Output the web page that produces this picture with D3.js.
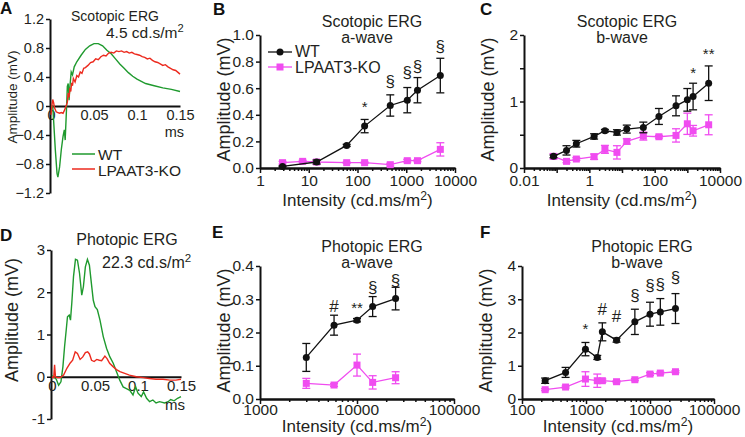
<!DOCTYPE html>
<html><head><meta charset="utf-8">
<script src="https://cdn.jsdelivr.net/npm/d3@7"></script>
<style>
body{margin:0;background:#fff}
svg text{font-family:Arial,"Liberation Sans",Helvetica,sans-serif}
</style></head><body>
<svg id="c" width="745" height="437"></svg>
<script>
// ---------- DATA ----------
// Panel A: scotopic ERG trace, 4.5 cd.s/m2  [time (s), amplitude mV]
const traceA_WT = [[0,0],[0.002,0],[0.003,-0.19],[0.005,-0.6],[0.007,-0.93],[0.008,-0.98],[0.010,-0.84],[0.012,-0.6],[0.014,-0.42],[0.0155,-0.33],[0.0165,-0.47],[0.018,-0.05],[0.019,0.27],[0.020,0.31],[0.021,0.08],[0.022,0.27],[0.0235,0.47],[0.025,0.43],[0.027,0.54],[0.030,0.61],[0.035,0.70],[0.040,0.78],[0.045,0.83],[0.050,0.86],[0.055,0.86],[0.060,0.83],[0.065,0.77],[0.070,0.72],[0.075,0.65],[0.080,0.58],[0.085,0.52],[0.090,0.46],[0.095,0.41],[0.100,0.37],[0.110,0.31],[0.120,0.28],[0.130,0.25],[0.140,0.23],[0.150,0.20]];
const traceA_KO = [[0,-0.12],[0.001,0.0],[0.002,0.09],[0.003,0.05],[0.004,-0.02],[0.006,-0.08],[0.008,-0.09],[0.010,-0.1],[0.012,-0.09],[0.014,-0.1],[0.016,-0.05],[0.0175,0.0],[0.019,0.05],[0.020,0.18],[0.021,0.12],[0.022,0.25],[0.023,0.2],[0.024,0.32],[0.025,0.28],[0.026,0.38],[0.028,0.33],[0.030,0.42],[0.032,0.40],[0.034,0.47],[0.036,0.45],[0.038,0.52],[0.040,0.53],[0.043,0.56],[0.046,0.60],[0.049,0.61],[0.052,0.65],[0.055,0.64],[0.058,0.68],[0.061,0.70],[0.064,0.69],[0.067,0.73],[0.070,0.74],[0.073,0.73],[0.076,0.76],[0.079,0.75],[0.082,0.76],[0.085,0.74],[0.088,0.75],[0.091,0.73],[0.094,0.74],[0.097,0.72],[0.100,0.71],[0.103,0.70],[0.106,0.68],[0.109,0.67],[0.112,0.65],[0.115,0.66],[0.118,0.63],[0.121,0.61],[0.124,0.60],[0.127,0.58],[0.130,0.56],[0.133,0.57],[0.136,0.54],[0.139,0.52],[0.142,0.50],[0.145,0.49],[0.148,0.46],[0.150,0.44]];

// Panel D: photopic ERG trace, 22.3 cd.s/m2
const traceD_WT = [[0,0.03],[0.002,0],[0.005,-0.06],[0.0077,-0.2],[0.0104,-0.12],[0.0127,0.24],[0.0146,0.71],[0.0165,1.1],[0.018,1.42],[0.020,1.46],[0.0215,1.34],[0.023,1.74],[0.025,2.37],[0.0273,2.78],[0.0296,2.76],[0.032,2.45],[0.0346,1.93],[0.0365,2.13],[0.0388,2.6],[0.0412,2.78],[0.0435,2.64],[0.0458,2.21],[0.048,1.81],[0.050,1.66],[0.0527,1.59],[0.0558,1.34],[0.0596,0.95],[0.0635,0.67],[0.0673,0.47],[0.0712,0.32],[0.075,0.12],[0.0788,-0.08],[0.0827,-0.24],[0.0865,-0.28],[0.0904,-0.32],[0.0942,-0.43],[0.0973,-0.24],[0.100,-0.39],[0.1038,-0.47],[0.1065,-0.36],[0.110,-0.51],[0.1135,-0.59],[0.1173,-0.55],[0.121,-0.62],[0.125,-0.59],[0.131,-0.62],[0.135,-0.59],[0.138,-0.54],[0.142,-0.57],[0.146,-0.51],[0.150,-0.47]];
const traceD_KO = [[0,0],[0.002,-0.02],[0.003,0.28],[0.004,0],[0.006,-0.02],[0.0096,-0.02],[0.0135,0.04],[0.0173,0.2],[0.021,0.32],[0.024,0.39],[0.027,0.59],[0.0296,0.55],[0.0327,0.41],[0.0358,0.47],[0.0388,0.57],[0.0415,0.59],[0.0435,0.54],[0.046,0.39],[0.049,0.36],[0.052,0.41],[0.055,0.39],[0.0577,0.38],[0.0615,0.49],[0.064,0.43],[0.067,0.32],[0.071,0.24],[0.075,0.17],[0.079,0.12],[0.0846,0.08],[0.090,0.04],[0.098,0],[0.106,-0.02],[0.113,-0.04],[0.121,-0.06],[0.129,-0.06],[0.137,-0.08],[0.144,-0.08],[0.150,-0.06]];

// Panel B: scotopic a-wave
const intB_WT = [2.9, 14.5, 60, 140, 470, 1050, 1700, 5000];
const wtB     = [0.012, 0.045, 0.17, 0.315, 0.47, 0.51, 0.585, 0.695];
const wtB_err = [0.004, 0.015, 0.008, 0.05, 0.08, 0.095, 0.095, 0.13];
const intB_KO = [2.9, 7.5, 14.5, 60, 140, 470, 1050, 1700, 5000];
const koB     = [0.04, 0.05, 0.045, 0.04, 0.04, 0.025, 0.055, 0.055, 0.14];
const koB_err = [0.01, 0.008, 0.015, 0.005, 0.005, 0.01, 0.01, 0.008, 0.05];
const annB = [{x:140,y:0.42,s:"*"},{x:470,y:0.61,s:"§"},{x:1050,y:0.68,s:"§"},{x:1700,y:0.72,s:"§"},{x:5000,y:0.87,s:"§"}];

// Panel C: scotopic b-wave
const intC    = [0.08, 0.2, 0.4, 1.4, 3, 7, 14, 45, 135, 450, 1000, 1500, 4500];
const wtC     = [0.175, 0.265, 0.365, 0.475, 0.56, 0.535, 0.585, 0.61, 0.775, 0.935, 1.025, 1.075, 1.275];
const wtC_err = [0.02, 0.07, 0.05, 0.04, 0.02, 0.04, 0.06, 0.08, 0.12, 0.15, 0.17, 0.2, 0.26];
const koC     = [0.175, 0.10, 0.135, 0.17, 0.28, 0.235, 0.40, 0.48, 0.47, 0.49, 0.665, 0.56, 0.65];
const koC_err = [0.04, 0.02, 0.02, 0.04, 0.06, 0.1, 0.04, 0.06, 0.02, 0.1, 0.16, 0.08, 0.15];
const annC = [{x:1500,y:1.35,s:"*"},{x:4500,y:1.64,s:"**"}];

// Panel E: photopic a-wave
const intE    = [3000, 5800, 10000, 14500, 25000];
const wtE     = [0.125, 0.222, 0.237, 0.278, 0.302];
const wtE_err = [0.042, 0.03, 0.005, 0.03, 0.034];
const koE     = [0.047, 0.042, 0.102, 0.05, 0.064];
const koE_err = [0.015, 0.004, 0.033, 0.02, 0.018];
const annE = [{x:5800,y:0.262,s:"#"},{x:10000,y:0.259,s:"**"},{x:14500,y:0.319,s:"§"},{x:25000,y:0.34,s:"§"}];

// Panel F: photopic b-wave
const intF    = [230, 480, 980, 1500, 1800, 3000, 5800, 10000, 14500, 25000];
const wtF     = [0.55, 0.8, 1.5, 1.25, 2.02, 1.77, 2.32, 2.55, 2.62, 2.72];
const wtF_err = [0.08, 0.15, 0.2, 0.06, 0.27, 0.06, 0.38, 0.36, 0.4, 0.45];
const koF     = [0.28, 0.36, 0.6, 0.55, 0.55, 0.52, 0.58, 0.75, 0.78, 0.82];
const koF_err = [0.03, 0.03, 0.22, 0.2, 0.05, 0.03, 0.03, 0.04, 0.03, 0.03];
const annF = [{x:980,y:1.95,s:"*"},{x:1800,y:2.53,s:"#"},{x:3000,y:2.32,s:"#"},{x:5800,y:2.95,s:"§"},{x:10000,y:3.25,s:"§"},{x:14500,y:3.28,s:"§"},{x:25000,y:3.49,s:"§"}];

const seriesNames = ["WT", "LPAAT3-KO"];

// ---------- STYLE ----------
const INK = "#231f20", GREEN = "#1f9a2e", RED = "#ec2a1e", MAG = "#f04cf0", BLK = "#111";
const svg = d3.select("#c");

function T(x, y, s, o = {}) {
  const t = svg.append("text").attr("x", x).attr("y", y)
    .attr("font-size", o.size || 15).attr("text-anchor", o.anchor || "start")
    .attr("font-weight", o.weight || "normal").attr("fill", o.fill || INK);
  if (o.rot) t.attr("transform", `rotate(-90,${x},${y})`);
  if (o.sup) {
    t.append("tspan").text(s);
    t.append("tspan").attr("font-size", (o.size || 15) * 0.72).attr("dy", -(o.size || 15) * 0.38).text(o.sup);
    if (o.tail) t.append("tspan").attr("dy", (o.size || 15) * 0.38).text(o.tail);
  } else t.text(s);
  return t;
}

function styleAxis(g, fs) {
  g.select(".domain").attr("stroke", BLK).attr("stroke-width", 2);
  g.selectAll(".tick line").attr("stroke", BLK).attr("stroke-width", 1.5);
  g.selectAll(".tick text").attr("fill", INK).attr("font-size", fs).attr("font-family", 'Arial,"Liberation Sans",sans-serif');
}

// ---------- TRACE PANELS (A, D) ----------
function tracePanel(cfg) {
  const x = d3.scaleLinear().domain([0, 0.15]).range(cfg.xr);
  const y = d3.scaleLinear().domain(cfg.yd).range(cfg.yr);
  const gy = svg.append("g").attr("transform", `translate(${cfg.xr[0] - 1},0)`)
    .call(d3.axisLeft(y).tickValues(cfg.yt).tickSize(4).tickSizeOuter(0).tickPadding(2).tickFormat(cfg.yf));
  styleAxis(gy, cfg.fs);
  const gx = svg.append("g").attr("transform", `translate(0,${y(0)})`)
    .call(d3.axisBottom(x).tickValues([0, 0.05, 0.1, 0.15]).tickSize(0).tickSizeOuter(0).tickPadding(4).tickFormat(d => d === 0 ? "0" : String(d)));
  styleAxis(gx, cfg.fs);
  const line = d3.line().x(d => x(d[0])).y(d => y(d[1]));
  svg.append("path").datum(cfg.wt).attr("d", line).attr("fill", "none").attr("stroke", GREEN).attr("stroke-width", 1.4);
  svg.append("path").datum(cfg.ko).attr("d", line).attr("fill", "none").attr("stroke", RED).attr("stroke-width", 1.4);
  T(cfg.xr[1] + 4, y(0) + cfg.msdy, "ms", { size: cfg.fs, anchor: "end" });
  return { x, y };
}

tracePanel({ xr: [51, 180], yd: [-1.2, 1.2], yr: [193, 19], yt: [-1.2, -0.8, -0.4, 0, 0.4, 0.8, 1.2],
  yf: d => d === 0 ? "0" : d3.format(".1f")(d), wt: traceA_WT, ko: traceA_KO, fs: 14.5, msdy: 31 });
tracePanel({ xr: [52, 181], yd: [-1, 3], yr: [419, 250], yt: [-1, 0, 1, 2, 3],
  yf: d => String(d), wt: traceD_WT, ko: traceD_KO, fs: 15, msdy: 33 });

// ---------- LOG PANELS (B, C, E, F) ----------
function logPanel(cfg) {
  const x = d3.scaleLog().domain(cfg.xd).range(cfg.xr);
  const y = d3.scaleLinear().domain(cfg.yd).range(cfg.yr);
  const e0 = Math.round(Math.log10(cfg.xd[0])), e1 = Math.round(Math.log10(cfg.xd[1]));
  const majors = d3.range(e0, e1 + 1).map(e => Math.pow(10, e));
  const minors = [];
  for (let e = e0; e < e1; e++) for (let k = 2; k <= 9; k++) minors.push(k * Math.pow(10, e));
  const gmin = svg.append("g").attr("transform", `translate(0,${cfg.yr[0]})`)
    .call(d3.axisBottom(x).tickValues(minors).tickSize(3).tickSizeOuter(0).tickFormat(""));
  styleAxis(gmin, 15);
  const gx = svg.append("g").attr("transform", `translate(0,${cfg.yr[0]})`)
    .call(d3.axisBottom(x).tickValues(majors).tickSize(5).tickSizeOuter(0).tickPadding(cfg.xPad)
      .tickFormat(d => cfg.xlab.includes(d) ? (d < 1 ? String(d) : d3.format("d")(d)) : ""));
  styleAxis(gx, 15.5);
  const gy = svg.append("g").attr("transform", `translate(${cfg.xr[0]},0)`)
    .call(d3.axisLeft(y).tickValues(cfg.yt).tickSize(4).tickSizeOuter(0).tickPadding(2)
      .tickFormat(d => cfg.ylab.includes(d) ? cfg.yf(d) : ""));
  styleAxis(gy, 15.5);

  const line = d3.line().x(d => x(d[0])).y(d => y(d[1]));
  function series(xs, vs, es, color, shape) {
    const pts = xs.map((xx, i) => [xx, vs[i], es[i]]);
    const g = svg.append("g");
    g.append("path").datum(pts).attr("d", line).attr("fill", "none").attr("stroke", color).attr("stroke-width", 1.3);
    pts.forEach(p => {
      const px = x(p[0]), y1 = y(p[1] + p[2]), y2 = y(Math.max(cfg.yd[0], p[1] - p[2]));
      g.append("line").attr("x1", px).attr("x2", px).attr("y1", y1).attr("y2", y2).attr("stroke", color).attr("stroke-width", 1.3);
      [y1, y2].forEach(yy => g.append("line").attr("x1", px - 4).attr("x2", px + 4).attr("y1", yy).attr("y2", yy).attr("stroke", color).attr("stroke-width", 1.3));
      if (shape === "sq") g.append("rect").attr("x", px - 3.5).attr("y", y(p[1]) - 3.5).attr("width", 7).attr("height", 7).attr("fill", color);
      else g.append("circle").attr("cx", px).attr("cy", y(p[1])).attr("r", 3.5).attr("fill", color);
    });
  }
  series(cfg.koX, cfg.ko, cfg.koE, MAG, "sq");
  series(cfg.wtX, cfg.wt, cfg.wtE, BLK, "c");
  cfg.ann.forEach(a => T(x(a.x), y(a.y), a.s, { size: a.s === "§" || a.s === "#" ? 17 : 15, anchor: "middle" }));
  T(cfg.titleX, cfg.t1y, cfg.title1, { size: 16, anchor: "middle" });
  T(cfg.titleX - 5, cfg.t2y, cfg.title2, { size: 16, anchor: "middle" });
  T((cfg.xr[0] + cfg.xr[1]) / 2, cfg.yr[0] + cfg.xtDy, "Intensity (cd.ms/m", { size: 17, anchor: "middle", sup: "2", tail: ")" });
  T(cfg.xr[0] - 30, (cfg.yr[0] + cfg.yr[1]) / 2 - 2, "Amplitude (mV)", { size: 18, anchor: "middle", rot: true });
  return { x, y };
}

logPanel({ xd: [1, 10000], xr: [260, 455], yd: [0, 1], yr: [168, 35], yt: [0, 0.2, 0.4, 0.6, 0.8, 1.0], ylab: [0, 0.2, 0.4, 0.6, 0.8, 1.0],
  yf: d3.format(".1f"), xlab: [1, 10, 100, 1000, 10000], xPad: 2,
  wtX: intB_WT, wt: wtB, wtE: wtB_err, koX: intB_KO, ko: koB, koE: koB_err, ann: annB,
  title1: "Scotopic ERG", title2: "a-wave", titleX: 372, t1y: 27, t2y: 43, xtDy: 38 });
logPanel({ xd: [0.01, 10000], xr: [524, 720], yd: [0, 2], yr: [168, 35], yt: [0, 0.5, 1, 1.5, 2], ylab: [0, 1, 2],
  yf: d => String(d), xlab: [0.01, 1, 100, 10000], xPad: 2,
  wtX: intC, wt: wtC, wtE: wtC_err, koX: intC, ko: koC, koE: koC_err, ann: annC,
  title1: "Scotopic ERG", title2: "b-wave", titleX: 627, t1y: 27, t2y: 43, xtDy: 38 });
logPanel({ xd: [1000, 100000], xr: [260, 454], yd: [0, 0.4], yr: [399, 266], yt: [0, 0.1, 0.2, 0.3, 0.4], ylab: [0, 0.1, 0.2, 0.3, 0.4],
  yf: d3.format(".1f"), xlab: [1000, 10000, 100000], xPad: 0,
  wtX: intE, wt: wtE, wtE: wtE_err, koX: intE, ko: koE, koE: koE_err, ann: annE,
  title1: "Photopic ERG", title2: "a-wave", titleX: 372, t1y: 252, t2y: 268, xtDy: 33 });
logPanel({ xd: [100, 100000], xr: [522, 714], yd: [0, 4], yr: [399, 266], yt: [0, 1, 2, 3, 4], ylab: [0, 1, 2, 3, 4],
  yf: d => String(d), xlab: [100, 1000, 10000, 100000], xPad: 0,
  wtX: intF, wt: wtF, wtE: wtF_err, koX: intF, ko: koF, koE: koF_err, ann: annF,
  title1: "Photopic ERG", title2: "b-wave", titleX: 642, t1y: 252, t2y: 268, xtDy: 33 });

// ---------- TEXT: A & D ----------
T(115, 21, "Scotopic ERG", { size: 14, anchor: "middle" });
T(106, 38, "4.5 cd.s/m", { size: 15.5, sup: "2" });
T(17, 97, "Amplitude (mV)", { size: 13.5, anchor: "middle", rot: true });
T(127, 245, "Photopic ERG", { size: 16, anchor: "middle" });
T(102, 268, "22.3 cd.s/m", { size: 16, sup: "2" });
T(18, 320, "Amplitude (mV)", { size: 18, anchor: "middle", rot: true });

// Legend A
svg.append("line").attr("x1", 72).attr("x2", 95).attr("y1", 154).attr("y2", 154).attr("stroke", GREEN).attr("stroke-width", 1.5);
svg.append("line").attr("x1", 72).attr("x2", 95).attr("y1", 169).attr("y2", 169).attr("stroke", RED).attr("stroke-width", 1.5);
T(98, 160, seriesNames[0], { size: 15.5 });
T(98, 176, seriesNames[1], { size: 15.5 });

// Legend B
svg.append("line").attr("x1", 268).attr("x2", 292).attr("y1", 52).attr("y2", 52).attr("stroke", BLK).attr("stroke-width", 1.3);
svg.append("circle").attr("cx", 280).attr("cy", 52).attr("r", 3.5).attr("fill", BLK);
svg.append("line").attr("x1", 268).attr("x2", 292).attr("y1", 67).attr("y2", 67).attr("stroke", MAG).attr("stroke-width", 1.3);
svg.append("rect").attr("x", 276.5).attr("y", 63.5).attr("width", 7).attr("height", 7).attr("fill", MAG);
T(295, 57, seriesNames[0], { size: 16 });
T(295, 73, seriesNames[1], { size: 16 });

// Panel letters
[["A", 0, 14], ["B", 213, 15], ["C", 480, 15], ["D", 0, 241], ["E", 212, 238], ["F", 480, 238]]
  .forEach(([s, x, y]) => T(x, y, s, { size: 17, weight: "bold", fill: "#111" }));
</script>
</body></html>
